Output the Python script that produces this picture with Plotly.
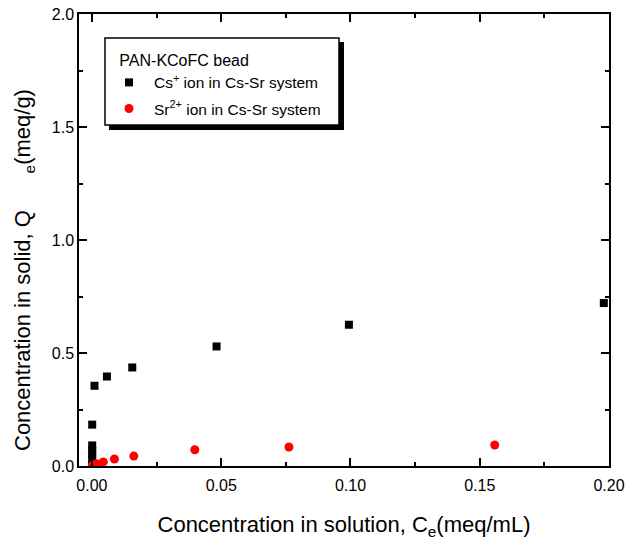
import plotly.graph_objects as go

# Data
cs_x = [0.0001, 0.0001, 0.0001, 0.0001, 0.0001, 0.0001, 0.0010, 0.0058, 0.0156, 0.0482, 0.0994, 0.1980]
cs_y = [0.006, 0.030, 0.052, 0.070, 0.091, 0.183, 0.355, 0.396, 0.436, 0.529, 0.625, 0.721]

sr_x = [0.0002, 0.0005, 0.0018, 0.0044, 0.0087, 0.0162, 0.0398, 0.0762, 0.1558]
sr_y = [0.003, 0.006, 0.010, 0.018, 0.031, 0.044, 0.072, 0.084, 0.093]

x_ticks = [0.0, 0.05, 0.10, 0.15, 0.20]
x_ticktext = ["0.00", "0.05", "0.10", "0.15", "0.20"]
y_ticks = [0.0, 0.5, 1.0, 1.5, 2.0]
y_ticktext = ["0.0", "0.5", "1.0", "1.5", "2.0"]

legend_title = "PAN-KCoFC bead"
cs_name = "Cs<sup>+</sup> ion in Cs-Sr system"
sr_name = "Sr<sup>2+</sup> ion in Cs-Sr system"

FONT = "Liberation Sans, Arial, sans-serif"

# plot-area geometry (px)
W, H = 626, 542
L, R, T, B = 79, 17, 14, 76
PW, PH = W - L - R, H - T - B


def px_x(p):
    return (p - L) / PW


def px_y(p):
    return (H - B - p) / PH


fig = go.Figure()
fig.add_trace(go.Scatter(x=cs_x, y=cs_y, mode="markers", name=cs_name, legendgroup="cs",
                         marker=dict(symbol="square", size=8, color="black", line=dict(width=0))))
fig.add_trace(go.Scatter(x=sr_x, y=sr_y, mode="markers", name=sr_name, legendgroup="sr",
                         marker=dict(symbol="circle", size=9, color="#ff0000", line=dict(width=0))))

axis_common = dict(
    showline=True, linecolor="black", linewidth=1.5, mirror="allticks",
    ticks="inside", ticklen=8, tickwidth=1.5, tickcolor="black",
    showgrid=False, zeroline=False, automargin=False,
    tickfont=dict(family=FONT, size=16, color="black"),
)

fig.update_xaxes(
    range=[-0.005, 0.2], tickvals=x_ticks, ticktext=x_ticktext, ticklabelstandoff=4,
    minor=dict(dtick=0.025, tick0=0, ticks="inside", ticklen=4, tickwidth=1.5, tickcolor="black"),
    title=dict(text="Concentration in solution, C<sub>e</sub>(meq/mL)",
               font=dict(family=FONT, size=22, color="black"), standoff=24),
    **axis_common,
)
fig.update_yaxes(
    range=[0, 2.0], tickvals=y_ticks, ticktext=y_ticktext,
    minor=dict(dtick=0.25, tick0=0, ticks="inside", ticklen=4, tickwidth=1.5, tickcolor="black"),
    **axis_common,
)

nb = "\u00a0"
fig.add_annotation(
    text="Concentration in solid, Q" + nb * 6 + "<sub>e</sub>(meq/g)",
    textangle=-90, xref="paper", yref="paper", x=px_x(24), y=px_y(270),
    xanchor="center", yanchor="middle", showarrow=False,
    font=dict(family=FONT, size=22, color="black"),
)

# legend box with drop shadow (drawn as shapes beneath the legend text)
fig.add_shape(type="rect", xref="paper", yref="paper",
              x0=px_x(109), x1=px_x(344), y0=px_y(130), y1=px_y(42),
              fillcolor="black", line=dict(width=0), layer="above")
fig.add_shape(type="rect", xref="paper", yref="paper",
              x0=px_x(105), x1=px_x(339), y0=px_y(125), y1=px_y(38),
              fillcolor="white", line=dict(color="black", width=1.5), layer="above")

fig.update_layout(
    width=W, height=H,
    margin=dict(l=L, r=R, t=T, b=B, autoexpand=False),
    paper_bgcolor="white", plot_bgcolor="white",
    font=dict(family=FONT, color="black"),
    showlegend=True,
    legend=dict(
        x=px_x(104), y=px_y(45), xanchor="left", yanchor="top",
        bgcolor="rgba(0,0,0,0)", borderwidth=0, itemwidth=40, tracegroupgap=3,
        font=dict(family=FONT, size=15.5, color="black"),
        title=dict(text=nb * 3 + legend_title, font=dict(family=FONT, size=16, color="black")),
    ),
)

fig.write_html(
    "out.html",
    config={"displayModeBar": False},
    post_script="document.body.style.margin='0';document.body.style.padding='0';",
)
